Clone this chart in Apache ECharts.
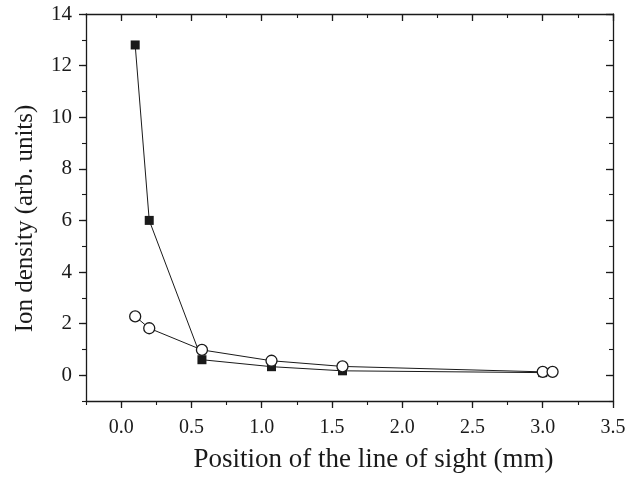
<!DOCTYPE html>
<html>
<head>
<meta charset="utf-8">
<script src="https://cdn.jsdelivr.net/npm/echarts@6/dist/echarts.min.js"></script>
<style>
  html, body { margin: 0; padding: 0; background: #fff; }
  #chart { width: 642px; height: 478px; }
</style>
</head>
<body>
<div id="chart"></div>
<script>
// filled squares
var squareX = [0.1, 0.2, 0.575, 1.07, 1.575, 3.0];
var squareY = [12.8, 6.0, 0.6, 0.33, 0.17, 0.1];
// open circles
var circleX = [0.1, 0.2, 0.575, 1.07, 1.575, 3.0, 3.07];
var circleY = [2.28, 1.82, 0.98, 0.56, 0.34, 0.13, 0.13];

var xMajorTicks = [0, 0.5, 1.0, 1.5, 2.0, 2.5, 3.0, 3.5];
var yMajorTicks = [0, 2, 4, 6, 8, 10, 12, 14];

var ink = "#1a1a1a";
var font = "Liberation Serif";

function pairs(xs, ys) {
    var out = [];
    xs.forEach(function (x, i) { out.push([x, ys[i]]); });
    return out;
}

// one axis draws the line and the minor ticks, a second one on the same side
// draws the major ticks (and the labels on bottom / left)
function makeX(pos, major) {
    var inside = pos === "top";
    return {
        type: "value",
        position: pos,
        min: -0.25,
        max: 3.5,
        interval: 0.25,
        splitLine: { show: false },
        axisLine: { show: !major, onZero: false, lineStyle: { color: ink, width: 1.3 } },
        axisTick: major
            ? { show: true, inside: inside, length: 7, customValues: xMajorTicks, lineStyle: { color: ink, width: 1.3 } }
            : { show: true, inside: inside, length: 4, lineStyle: { color: ink, width: 1.1 } },
        axisLabel: {
            show: major && pos === "bottom",
            customValues: xMajorTicks,
            margin: 17,
            color: ink,
            fontFamily: font,
            fontSize: 20,
            formatter: function (v) {
                return Math.abs(v * 2 - Math.round(v * 2)) < 1e-6 && v >= 0 ? v.toFixed(1) : "";
            }
        },
        name: major && pos === "bottom" ? "Position of the line of sight (mm)" : "",
        nameLocation: "middle",
        nameGap: 45,
        nameTextStyle: { color: ink, fontFamily: font, fontSize: 27, padding: [0, 0, 0, 48] }
    };
}

function makeY(pos, major) {
    var inside = pos === "right";
    return {
        type: "value",
        position: pos,
        min: -1,
        max: 14,
        interval: 1,
        splitLine: { show: false },
        axisLine: { show: !major, onZero: false, lineStyle: { color: ink, width: 1.3 } },
        axisTick: major
            ? { show: true, inside: inside, length: 7, customValues: yMajorTicks, lineStyle: { color: ink, width: 1.3 } }
            : { show: true, inside: inside, length: 4, lineStyle: { color: ink, width: 1.1 } },
        axisLabel: {
            show: major && pos === "left",
            customValues: yMajorTicks,
            margin: 14,
            color: ink,
            fontFamily: font,
            fontSize: 21,
            formatter: function (v) {
                return v >= 0 && v % 2 === 0 ? String(v) : "";
            }
        },
        name: major && pos === "left" ? "Ion density (arb. units)" : "",
        nameLocation: "middle",
        nameGap: 48,
        nameTextStyle: { color: ink, fontFamily: font, fontSize: 25, padding: [0, 22, 0, 0] }
    };
}

var chart = echarts.init(document.getElementById("chart"), null, { renderer: "canvas" });

var option = {
    backgroundColor: "#fff",
    animation: false,
    grid: { left: 86, right: 29, top: 14, bottom: 76, containLabel: false },
    xAxis: [makeX("bottom", false), makeX("bottom", true), makeX("top", false), makeX("top", true)],
    yAxis: [makeY("left", false), makeY("left", true), makeY("right", false), makeY("right", true)],
    series: [
        {
            type: "line",
            xAxisIndex: 0,
            yAxisIndex: 0,
            data: pairs(squareX, squareY),
            symbol: "rect",
            symbolSize: 9,
            lineStyle: { color: ink, width: 1 },
            itemStyle: { color: ink, borderWidth: 0 }
        },
        {
            type: "line",
            xAxisIndex: 0,
            yAxisIndex: 0,
            data: pairs(circleX, circleY),
            symbol: "circle",
            symbolSize: 11,
            showAllSymbol: true,
            lineStyle: { color: ink, width: 1 },
            itemStyle: { color: "#fff", borderColor: ink, borderWidth: 1.3 }
        }
    ]
};

chart.setOption(option);
</script>
</body>
</html>
